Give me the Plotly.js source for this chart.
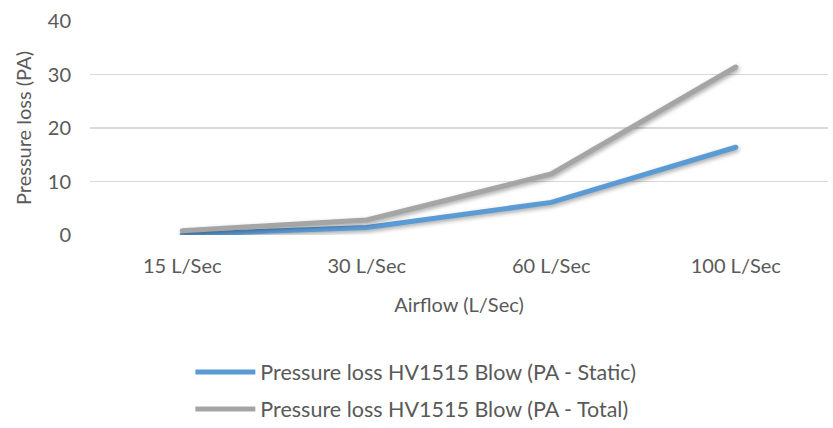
<!DOCTYPE html>
<html>
<head>
<meta charset="utf-8">
<script src="https://cdn.plot.ly/plotly-3.0.1.min.js"></script>
<style>
html,body{margin:0;padding:0;background:#fff;}
#chart{width:833px;height:428px;}
.scatterlayer path.js-line{filter:drop-shadow(1px 2px 2px rgba(0,0,0,0.35));stroke-linecap:round;}
</style>
</head>
<body>
<div id="chart"></div>
<script>
const categories = ["15 L/Sec", "30 L/Sec", "60 L/Sec", "100 L/Sec"];
const staticLoss = [0.1, 1.4, 6.1, 16.4];
const totalLoss = [0.8, 2.8, 11.4, 31.4];
const seriesNames = ["Pressure loss HV1515 Blow (PA - Static)", "Pressure loss HV1515 Blow (PA - Total)"];
const yTicks = [0, 10, 20, 30, 40];

const font = {family: "Lato, 'Liberation Sans', sans-serif", size: 20, color: "#595959"};

const traces = [
  {x: categories, y: staticLoss, name: seriesNames[0], type: "scatter", mode: "lines",
   legendgroup: "static", line: {color: "#5B9BD5", width: 5}},
  {x: categories, y: totalLoss, name: seriesNames[1], type: "scatter", mode: "lines",
   legendgroup: "total", line: {color: "#A5A5A5", width: 5}}
];

const layout = {
  width: 833, height: 428,
  margin: {l: 90, r: 5, t: 21, b: 193, autoexpand: false},
  paper_bgcolor: "#fff", plot_bgcolor: "#fff",
  font: font,
  showlegend: true,
  legend: {x: 0.136, y: -0.545, xanchor: "left", yanchor: "top", orientation: "v",
           itemwidth: 60,
           font: {family: font.family, size: 21.5, color: "#595959"}, tracegroupgap: 6,
           bgcolor: "rgba(0,0,0,0)"},
  xaxis: {type: "category", range: [-0.5, 3.5], showgrid: false, zeroline: false, showline: false,
          ticks: "", tickfont: font, ticklabelstandoff: 17,
          title: {text: "Airflow (L/Sec)", font: font, standoff: 21}},
  yaxis: {range: [0, 40], tickvals: yTicks, showgrid: true, gridcolor: "#D9D9D9", gridwidth: 1.5,
          zeroline: false, showline: false, ticks: "", tickfont: font, ticklabelstandoff: 18,
          title: {text: "Pressure loss (PA)", font: font, standoff: 10}}
};

Plotly.newPlot("chart", traces, layout, {displayModeBar: false, staticPlot: true});
</script>
</body>
</html>
